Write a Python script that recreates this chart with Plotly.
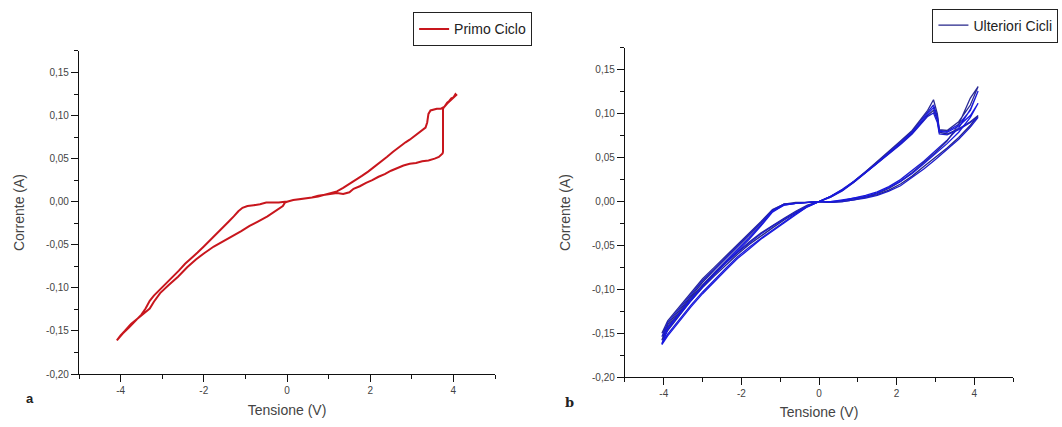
import plotly.graph_objects as go

# ---------------- Panel a: first cycle (Primo Ciclo) ----------------
# 0 V -> +4 V, low-conductance branch, then the jump near 3.75 V
primo_set_v = [0.0, 0.15, 0.3, 0.45, 0.6, 0.75, 0.9, 1.05, 1.2, 1.35, 1.5, 1.6, 1.75,
               1.9, 2.05, 2.2, 2.35, 2.5, 2.65, 2.8, 2.95, 3.1, 3.25, 3.4, 3.55, 3.65,
               3.74, 3.75, 3.75, 3.8, 3.85, 3.9, 3.95, 4.0, 4.05, 4.07]
primo_set_i = [0.000, 0.002, 0.003, 0.004, 0.005, 0.007, 0.008, 0.009, 0.010, 0.009, 0.011,
               0.015, 0.018, 0.022, 0.025, 0.029, 0.032, 0.036, 0.039, 0.042, 0.044, 0.045,
               0.047, 0.048, 0.050, 0.052, 0.056, 0.058, 0.108, 0.112, 0.115, 0.117, 0.120,
               0.121, 0.125, 0.124]
# +4 V -> 0 V, high-conductance branch
primo_back_v = [4.07, 4.0, 3.92, 3.85, 3.78, 3.7, 3.6, 3.5, 3.45, 3.4, 3.37, 3.33, 3.25,
                3.15, 3.05, 2.95, 2.85, 2.7, 2.55, 2.4, 2.25, 2.1, 1.95, 1.8, 1.65, 1.5,
                1.35, 1.2, 1.05, 0.9, 0.75, 0.6, 0.45, 0.3, 0.15, 0.0]
primo_back_i = [0.124, 0.121, 0.118, 0.114, 0.110, 0.108, 0.108, 0.107, 0.106, 0.102, 0.092,
                0.086, 0.083, 0.079, 0.075, 0.072, 0.069, 0.064, 0.058, 0.052, 0.046, 0.040,
                0.035, 0.030, 0.025, 0.020, 0.016, 0.012, 0.010, 0.008, 0.006, 0.005, 0.004,
                0.003, 0.002, 0.000]
# 0 V -> -4 V
primo_neg_v = [-0.05, -0.1, -0.25, -0.47, -0.7, -0.9, -1.1, -1.33, -1.55, -1.76, -2.0,
               -2.19, -2.4, -2.62, -2.85, -3.05, -3.2, -3.3, -3.45, -3.6, -3.75, -3.9,
               -4.0, -4.09]
primo_neg_i = [-0.001, -0.005, -0.010, -0.017, -0.023, -0.028, -0.034, -0.040, -0.046,
               -0.052, -0.060, -0.067, -0.076, -0.087, -0.097, -0.106, -0.116, -0.124,
               -0.130, -0.136, -0.142, -0.150, -0.155, -0.161]
# -4 V -> 0 V
primo_ret_v = [-3.95, -3.8, -3.65, -3.5, -3.4, -3.3, -3.2, -3.05, -2.9, -2.75, -2.6, -2.45,
               -2.3, -2.15, -2.0, -1.85, -1.7, -1.55, -1.4, -1.28, -1.17, -1.07, -0.95,
               -0.8, -0.65, -0.5, -0.35, -0.2, -0.05, 0.0]
primo_ret_i = [-0.153, -0.146, -0.139, -0.131, -0.124, -0.115, -0.109, -0.102, -0.095,
               -0.088, -0.080, -0.072, -0.066, -0.059, -0.052, -0.045, -0.038, -0.031,
               -0.023, -0.017, -0.011, -0.007, -0.005, -0.004, -0.003, -0.001, -0.001,
               -0.001, 0.000, 0.000]

# ---------------- Panel b: further cycles (Ulteriori Cicli) ----------------
# Voltage program shared by every cycle
sweep_up_pos = [0.0, 0.3, 0.6, 0.9, 1.2, 1.5, 1.8, 2.1, 2.4, 2.7, 3.0, 3.3, 3.6, 3.9, 4.1]
sweep_down_pos = [3.9, 3.6, 3.3, 3.1, 3.05, 2.95, 2.8, 2.6, 2.4, 2.1, 1.8, 1.5, 1.2, 0.9,
                  0.6, 0.3, 0.0]
sweep_down_neg = [-0.3, -0.6, -0.9, -1.2, -1.5, -1.8, -2.1, -2.4, -2.7, -3.0, -3.3, -3.6,
                  -3.9, -4.05]
sweep_up_neg = [-3.9, -3.6, -3.3, -3.0, -2.7, -2.4, -2.1, -1.8, -1.5, -1.2, -0.9, -0.6,
                -0.3, 0.0]

cycle_1 = [0.000, -0.001, 0.001, 0.003, 0.005, 0.008, 0.013, 0.020, 0.029, 0.040, 0.050,
           0.061, 0.073, 0.087, 0.098,
           0.091, 0.083, 0.077, 0.079, 0.093, 0.104, 0.098, 0.088, 0.078, 0.066, 0.055,
           0.044, 0.033, 0.022, 0.013, 0.006, 0.000,
           -0.005, -0.013, -0.021, -0.030, -0.039, -0.049, -0.060, -0.072, -0.085, -0.098,
           -0.113, -0.130, -0.147, -0.158,
           -0.140, -0.124, -0.108, -0.092, -0.078, -0.065, -0.052, -0.039, -0.025, -0.010,
           -0.003, -0.002, -0.001, 0.000]
cycle_2 = [0.000, 0.000, 0.001, 0.004, 0.007, 0.011, 0.017, 0.025, 0.035, 0.046, 0.058,
           0.070, 0.084, 0.105, 0.126,
           0.104, 0.088, 0.080, 0.081, 0.097, 0.110, 0.102, 0.091, 0.080, 0.068, 0.056,
           0.045, 0.034, 0.023, 0.014, 0.006, 0.000,
           -0.006, -0.014, -0.023, -0.032, -0.042, -0.052, -0.063, -0.076, -0.089, -0.103,
           -0.118, -0.135, -0.151, -0.162,
           -0.144, -0.127, -0.111, -0.095, -0.081, -0.068, -0.055, -0.041, -0.027, -0.011,
           -0.004, -0.002, -0.001, 0.000]
cycle_3 = [0.000, -0.001, 0.000, 0.002, 0.005, 0.009, 0.015, 0.023, 0.033, 0.044, 0.056,
           0.069, 0.088, 0.118, 0.131,
           0.110, 0.091, 0.081, 0.082, 0.100, 0.116, 0.104, 0.092, 0.081, 0.069, 0.057,
           0.045, 0.034, 0.023, 0.013, 0.005, 0.000,
           -0.004, -0.011, -0.019, -0.027, -0.036, -0.046, -0.057, -0.069, -0.082, -0.095,
           -0.109, -0.126, -0.142, -0.150,
           -0.136, -0.120, -0.104, -0.088, -0.075, -0.062, -0.050, -0.037, -0.023, -0.009,
           -0.003, -0.001, -0.001, 0.000]
cycle_4 = [0.000, -0.001, 0.000, 0.002, 0.004, 0.007, 0.012, 0.018, 0.027, 0.037, 0.048,
           0.059, 0.071, 0.085, 0.096,
           0.090, 0.082, 0.076, 0.077, 0.090, 0.101, 0.097, 0.087, 0.077, 0.065, 0.054,
           0.043, 0.032, 0.022, 0.012, 0.005, 0.000,
           -0.005, -0.012, -0.020, -0.028, -0.037, -0.047, -0.058, -0.070, -0.083, -0.097,
           -0.111, -0.128, -0.144, -0.154,
           -0.138, -0.122, -0.106, -0.090, -0.077, -0.064, -0.051, -0.038, -0.024, -0.010,
           -0.003, -0.002, -0.001, 0.000]
cycle_5 = [0.000, 0.000, 0.002, 0.004, 0.006, 0.010, 0.016, 0.023, 0.032, 0.043, 0.054,
           0.066, 0.079, 0.096, 0.112,
           0.098, 0.086, 0.079, 0.080, 0.095, 0.107, 0.100, 0.089, 0.079, 0.067, 0.055,
           0.044, 0.033, 0.023, 0.013, 0.006, 0.000,
           -0.006, -0.015, -0.024, -0.033, -0.043, -0.054, -0.065, -0.078, -0.091, -0.105,
           -0.120, -0.136, -0.153, -0.163,
           -0.146, -0.129, -0.113, -0.097, -0.083, -0.070, -0.056, -0.043, -0.028, -0.012,
           -0.004, -0.002, -0.001, 0.000]
cycles = [cycle_1, cycle_2, cycle_3, cycle_4, cycle_5]
cycle_colors = ["#25258a", "#1a1ad8", "#2a2a96", "#1c1ccc", "#1818e0"]

# ---------------- Axis ticks ----------------
x_ticks = [-4, -2, 0, 2, 4]
x_tick_text = ["-4", "-2", "0", "2", "4"]
y_ticks = [-0.20, -0.15, -0.10, -0.05, 0.00, 0.05, 0.10, 0.15]
y_tick_text = ["-0,20", "-0,15", "-0,10", "-0,05", "0,00", "0,05", "0,10", "0,15"]

FONT = "Liberation Sans, Arial, sans-serif"

fig = go.Figure()

fig.add_trace(go.Scatter(
    x=primo_set_v + primo_back_v + primo_neg_v + primo_ret_v,
    y=primo_set_i + primo_back_i + primo_neg_i + primo_ret_i,
    mode="lines", name="Primo Ciclo", showlegend=True,
    line=dict(color="#c8161d", width=2),
    xaxis="x", yaxis="y", legend="legend",
))

sweep_v = sweep_up_pos + sweep_down_pos + sweep_down_neg + sweep_up_neg
for k, (cur, col) in enumerate(zip(cycles, cycle_colors)):
    fig.add_trace(go.Scatter(
        x=sweep_v, y=cur, mode="lines", name="Ulteriori Cicli",
        line=dict(color=col, width=1.3),
        legendgroup="cicli", showlegend=(k == 0),
        xaxis="x2", yaxis="y2", legend="legend2",
    ))

axis_common = dict(
    showline=True, linecolor="#111", linewidth=1.3,
    ticks="outside", ticklen=7, tickwidth=1.2, tickcolor="#111",
    showgrid=False, zeroline=False,
    tickfont=dict(family=FONT, size=10, color="#444"),
    title_font=dict(family=FONT, size=14, color="#444"),
)
x_common = dict(axis_common, range=[-5, 5], tickvals=x_ticks, ticktext=x_tick_text,
                minor=dict(dtick=1, tick0=0, ticks="outside", ticklen=4,
                           tickcolor="#111", tickwidth=1.1),
                title_text="Tensione (V)", title_standoff=9)
y_common = dict(axis_common, range=[-0.2, 0.175], tickvals=y_ticks, ticktext=y_tick_text,
                minor=dict(dtick=0.025, tick0=0, ticks="outside", ticklen=4,
                           tickcolor="#111", tickwidth=1.1),
                title_text="Corrente (A)", title_standoff=18)

legend_style = dict(xanchor="left", yanchor="top", bordercolor="#222", borderwidth=1,
                    bgcolor="white", font=dict(family=FONT, size=14, color="#222"),
                    tracegroupgap=0)

fig.update_layout(
    width=1062, height=427,
    margin=dict(l=0, r=0, t=0, b=0, autoexpand=False),
    paper_bgcolor="white", plot_bgcolor="white",
    showlegend=True,
    xaxis=dict(x_common, domain=[0.0744, 0.4661], anchor="y"),
    yaxis=dict(y_common, domain=[0.124, 0.8806], anchor="x"),
    xaxis2=dict(x_common, domain=[0.5885, 0.9539], anchor="y2"),
    yaxis2=dict(y_common, domain=[0.117, 0.8876], anchor="x2"),
    legend=dict(legend_style, x=0.389, y=0.971),
    legend2=dict(legend_style, x=0.878, y=0.980),
    annotations=[
        dict(text="<b>a</b>", x=24 / 1062, y=1 - 408 / 427, xref="paper", yref="paper",
             showarrow=False, font=dict(family=FONT, size=13, color="#222")),
        dict(text="<b>b</b>", x=569 / 1062, y=1 - 412 / 427, xref="paper", yref="paper",
             showarrow=False, font=dict(family="DejaVu Serif", size=13, color="#222")),
    ],
)

fig.write_html("out.html")
